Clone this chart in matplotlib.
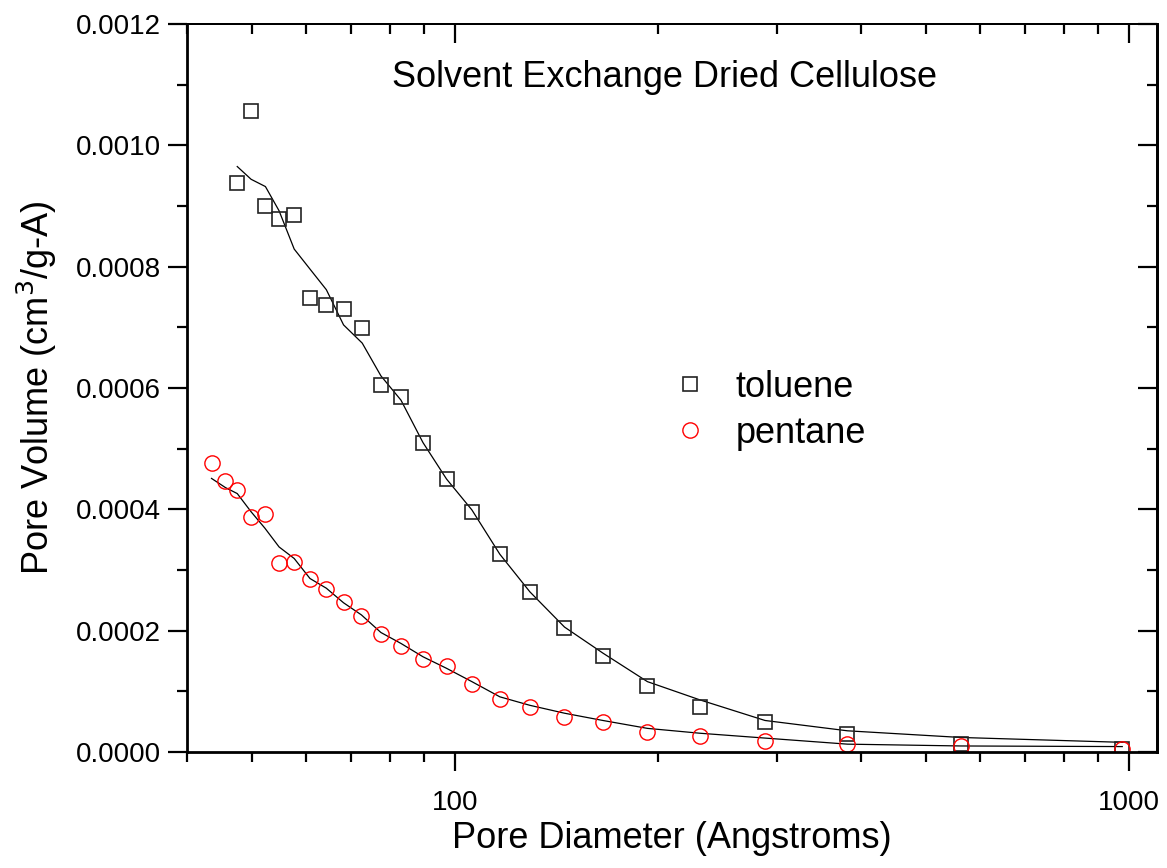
import numpy as np
import matplotlib
matplotlib.use("Agg")
import matplotlib.pyplot as plt
from matplotlib.ticker import FixedLocator, NullFormatter, FormatStrFormatter, MultipleLocator

plt.rcParams['font.family'] = ['Liberation Sans', 'DejaVu Sans']

# toluene data (squares) and its smoothed curve
tol_x = [47.5, 49.8, 52.3, 54.8, 57.7, 60.9, 64.4, 68.3, 72.8, 77.6, 83.1, 89.6,
         97.1, 105.9, 116.5, 129.1, 145.3, 165.7, 192.9, 230.7, 288.3, 382, 563, 977]
tol_y = [9.38, 10.57, 9.00, 8.78, 8.85, 7.48, 7.37, 7.31, 6.99, 6.05, 5.85, 5.10,
         4.50, 3.96, 3.26, 2.64, 2.04, 1.58, 1.09, 0.74, 0.49, 0.29, 0.14, 0.05]
tol_fit = [9.65, 9.44, 9.32, 8.92, 8.29, 7.96, 7.62, 7.04, 6.74, 6.20, 5.80, 5.10,
           4.50, 3.99, 3.26, 2.64, 2.06, 1.63, 1.16, 0.86, 0.52, 0.35, 0.24, 0.16]

# pentane data (circles) and its smoothed curve
pen_x = [43.5, 45.6, 47.5, 49.8, 52.2, 54.8, 57.7, 60.9, 64.4, 68.3, 72.6, 77.6, 83.1,
         89.6, 97.1, 105.9, 116.5, 129.1, 145.3, 165.7, 192.9, 230.7, 288.3, 382, 563, 977]
pen_y = [4.76, 4.46, 4.32, 3.87, 3.93, 3.12, 3.13, 2.85, 2.68, 2.47, 2.25, 1.94, 1.74,
         1.53, 1.41, 1.12, 0.87, 0.75, 0.57, 0.49, 0.33, 0.26, 0.19, 0.13, 0.10, 0.045]
pen_fit = [4.51, 4.36, 4.26, 3.96, 3.69, 3.38, 3.19, 2.86, 2.70, 2.46, 2.26, 1.97, 1.79,
           1.57, 1.38, 1.16, 0.91, 0.77, 0.64, 0.52, 0.39, 0.31, 0.23, 0.13, 0.10, 0.09]

scale = 1e-4

fig = plt.figure(figsize=(11.67, 8.68), dpi=100)
ax = fig.add_axes([0.1602, 0.1336, 0.8312, 0.8388])

ax.plot(tol_x, np.array(tol_fit) * scale, color='black', lw=0.9)
ax.plot(pen_x, np.array(pen_fit) * scale, color='black', lw=0.9)
sq, = ax.plot(tol_x, np.array(tol_y) * scale, ls='none', marker='s', ms=10.5,
              mfc='none', mec='#222222', mew=1.2, label='toluene')
ci, = ax.plot(pen_x, np.array(pen_y) * scale, ls='none', marker='o', ms=11,
              mfc='none', mec='red', mew=1.0, label='pentane')

ax.set_xscale('log')
ax.set_xlim(40, 1100)
ax.set_ylim(0, 0.0012)

ax.xaxis.set_major_locator(FixedLocator([100, 1000]))
ax.xaxis.set_major_formatter(FormatStrFormatter('%d'))
minors = [40, 50, 60, 70, 80, 90, 200, 300, 400, 500, 600, 700, 800, 900]
ax.xaxis.set_minor_locator(FixedLocator(minors))
ax.xaxis.set_minor_formatter(NullFormatter())
ax.yaxis.set_major_locator(MultipleLocator(0.0002))
ax.yaxis.set_minor_locator(MultipleLocator(0.0001))
ax.yaxis.set_major_formatter(FormatStrFormatter('%.4f'))

ax.tick_params(which='major', direction='out', length=14, width=1.6, labelsize=20, pad=5)
ax.tick_params(which='minor', direction='out', length=7, width=1.6)
ax.tick_params(axis='x', pad=13)

for s in ['left', 'bottom', 'right']:
    ax.spines[s].set_linewidth(2.0)
ax.spines['top'].set_linewidth(1.4)

# mirrored inward ticks on top and right
top = ax.secondary_xaxis('top')
top.xaxis.set_major_locator(FixedLocator([100, 1000]))
top.xaxis.set_minor_locator(FixedLocator(minors))
top.xaxis.set_major_formatter(NullFormatter())
top.xaxis.set_minor_formatter(NullFormatter())
top.tick_params(which='major', direction='in', length=14, width=1.6)
top.tick_params(which='minor', direction='in', length=7, width=1.6)
top.spines['top'].set_linewidth(1.4)

right = ax.secondary_yaxis('right')
right.yaxis.set_major_locator(MultipleLocator(0.0002))
right.yaxis.set_minor_locator(MultipleLocator(0.0001))
right.yaxis.set_major_formatter(NullFormatter())
right.tick_params(which='major', direction='in', length=14, width=1.6)
right.tick_params(which='minor', direction='in', length=7, width=1.6)
right.spines['right'].set_linewidth(2.0)

ax.set_xlabel('Pore Diameter (Angstroms)', fontsize=26, labelpad=4)
ax.set_ylabel('Pore Volume (cm$^3$/g-A)', fontsize=26, labelpad=12)

ax.text(0.4928, 0.9258, 'Solvent Exchange Dried Cellulose', transform=ax.transAxes,
        ha='center', va='center', fontsize=26)

ax.legend(handles=[sq, ci], loc='center left', bbox_to_anchor=(0.504, 0.4695),
          frameon=False, fontsize=26, handlelength=0.8, handletextpad=0.85,
          labelspacing=0.3, borderaxespad=0, borderpad=0)

fig.savefig('out.png', dpi=100)
